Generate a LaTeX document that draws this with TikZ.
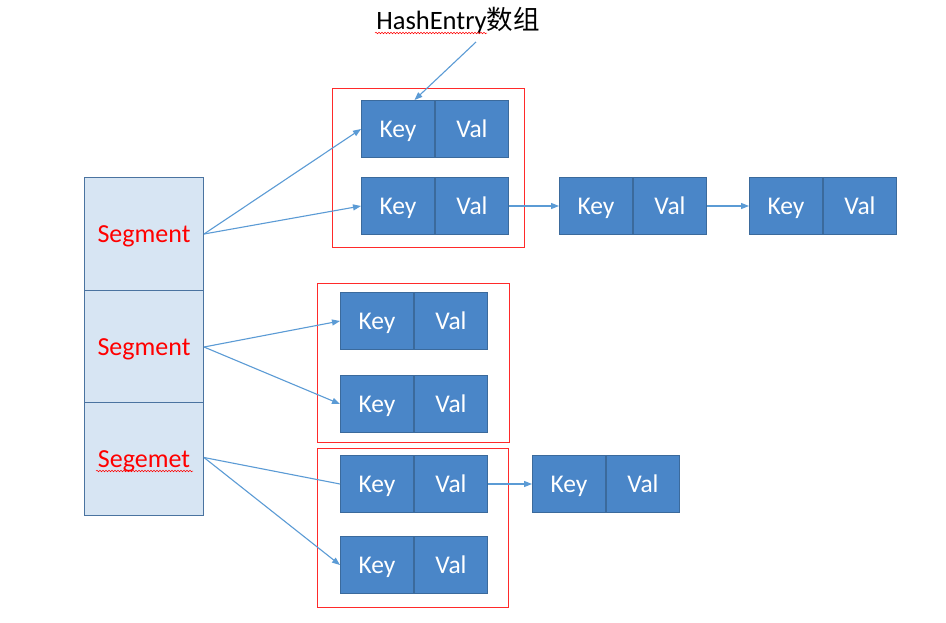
\documentclass[tikz,border=0pt]{standalone}
\usepackage{fontspec}
\setmainfont{Carlito}
\newfontfamily\cjk{Noto Sans CJK SC}
\usetikzlibrary{arrows.meta,decorations.pathmorphing}
\definecolor{cellblue}{HTML}{4A86C8}
\definecolor{celledge}{HTML}{3B6A9C}
\definecolor{segfill}{HTML}{D7E5F3}
\definecolor{segedge}{HTML}{4A73A0}
\definecolor{arrowblue}{HTML}{5B9BD5}
\definecolor{framered}{HTML}{FF2A2A}
\tikzset{
  cell/.style={draw=celledge, fill=cellblue, line width=1pt, minimum width=73, minimum height=57,
    inner sep=0pt, text=white, font=\fontsize{25.5}{28}\selectfont, text height=16pt, text depth=0pt},
  seg/.style={draw=segedge, fill=segfill, line width=1pt, minimum width=119, minimum height=113,
    inner sep=0pt, text=red, font=\fontsize{26}{30}\selectfont, text height=16.4pt, text depth=0pt},
  frame/.style={draw=framered, line width=1pt},
  link/.style={draw=arrowblue, line width=1.1pt, -{Triangle[length=8pt,width=6pt]}},
  plain/.style={draw=arrowblue, line width=1.1pt},
  squiggle/.style={draw=red, line width=0.5pt, decorate, decoration={snake, amplitude=0.8pt, segment length=3pt}}
}
\begin{document}
\begin{tikzpicture}[x=1pt,y=-1pt]
\useasboundingbox (0,0) rectangle (946,622);
\fill[white] (0,0) rectangle (946,622);

% red frames
\draw[frame] (332,88) rectangle (524,247);
\draw[frame] (317,283) rectangle (509,442);
\draw[frame] (317,448) rectangle (508,607);

% segments
\node[seg, anchor=north west] (s1) at (84,177) {Segment};
\node[seg, anchor=north west] (s2) at (84,290) {Segment};
\node[seg, anchor=north west] (s3) at (84,402) {Segemet};
\draw[squiggle] (96,471) -- (193,471);

% entries box 1
\node[cell, anchor=north west] (k1) at (361,100) {Key};
\node[cell, anchor=west] (v1) at (k1.east) {Val};
\node[cell, anchor=north west] (k2) at (361,177) {Key};
\node[cell, anchor=west] (v2) at (k2.east) {Val};
\node[cell, anchor=north west] (k3) at (559,177) {Key};
\node[cell, anchor=west] (v3) at (k3.east) {Val};
\node[cell, anchor=north west] (k4) at (749,177) {Key};
\node[cell, anchor=west] (v4) at (k4.east) {Val};

% entries box 2
\node[cell, anchor=north west] (k5) at (340,292) {Key};
\node[cell, anchor=west] (v5) at (k5.east) {Val};
\node[cell, anchor=north west] (k6) at (340,375) {Key};
\node[cell, anchor=west] (v6) at (k6.east) {Val};

% entries box 3
\node[cell, anchor=north west] (k7) at (340,455) {Key};
\node[cell, anchor=west] (v7) at (k7.east) {Val};
\node[cell, anchor=north west] (k8) at (340,536) {Key};
\node[cell, anchor=west] (v8) at (k8.east) {Val};
\node[cell, anchor=north west] (k9) at (532,455) {Key};
\node[cell, anchor=west] (v9) at (k9.east) {Val};

% label
\node[font=\fontsize{26.5}{30}\selectfont, inner sep=0pt] (lbl) at (458,20) {HashEntry{\cjk 数组}};
\draw[squiggle] (375,33) -- (487,33);
\coordinate (lblfoot) at (476,42);
\coordinate (k1top) at ([xshift=16.5]k1.north);
\draw[link] (lblfoot) -- (k1top);

% connectors
\draw[link] (s1.east) -- (k1.west);
\draw[link] (s1.east) -- (k2.west);
\draw[link] (v2.east) -- (k3.west);
\draw[link] (v3.east) -- (k4.west);
\draw[link] (s2.east) -- (k5.west);
\draw[link] (s2.east) -- (k6.west);
\coordinate (s3out) at ([yshift=1.5]s3.east);
\draw[plain] (s3out) -- (k7.west);
\draw[link] (s3out) -- (k8.west);
\draw[link] (v7.east) -- (k9.west);
\end{tikzpicture}
\end{document}
